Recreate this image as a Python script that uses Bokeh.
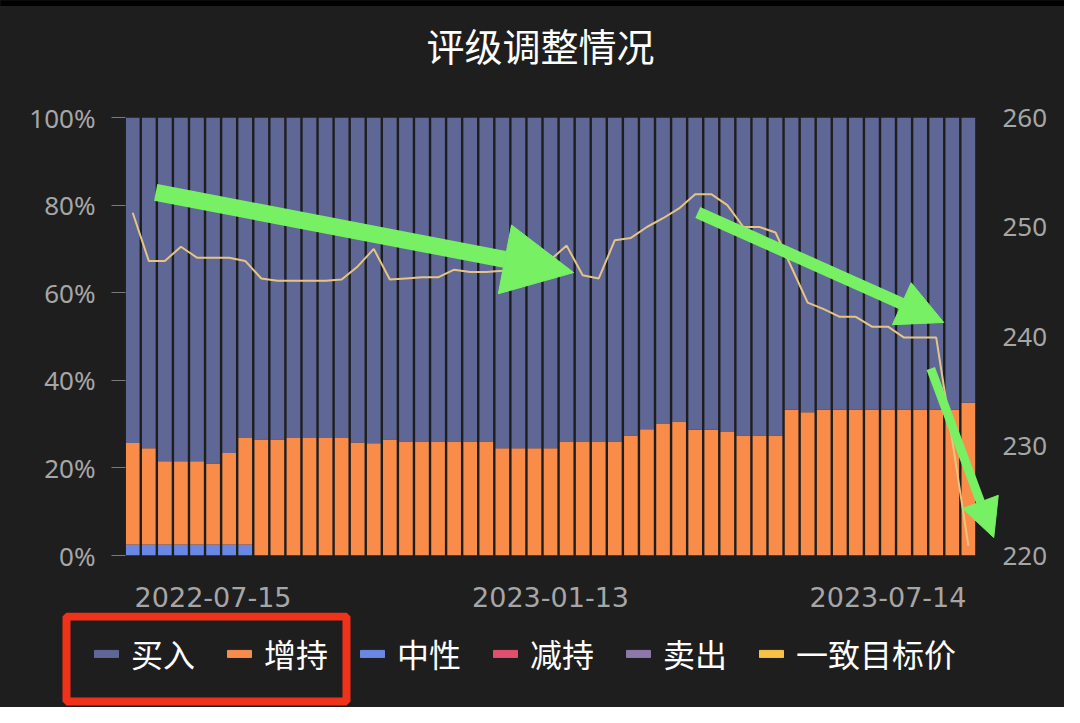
from bokeh.plotting import figure
from bokeh.models import (Range1d, LinearAxis, FixedTicker, PrintfTickFormatter,
                          Arrow, NormalHead, Legend, LegendItem, ColumnDataSource)
from bokeh.core.properties import value
from bokeh.layouts import column
from bokeh.embed import file_html
from bokeh.resources import INLINE

# ---------------- data ----------------
dates = ["2022-06-10", "2022-06-17", "2022-06-24", "2022-07-01", "2022-07-08",
         "2022-07-15", "2022-07-22", "2022-07-29", "2022-08-05", "2022-08-12",
         "2022-08-19", "2022-08-26", "2022-09-02", "2022-09-09", "2022-09-16",
         "2022-09-23", "2022-10-14", "2022-10-21", "2022-10-28", "2022-11-04",
         "2022-11-11", "2022-11-25", "2022-12-02", "2022-12-16", "2022-12-23",
         "2023-01-06", "2023-01-13", "2023-01-20", "2023-02-03", "2023-02-17",
         "2023-02-24", "2023-03-03", "2023-03-10", "2023-03-17", "2023-03-24",
         "2023-03-31", "2023-04-14", "2023-04-21", "2023-04-28", "2023-05-12",
         "2023-05-19", "2023-05-26", "2023-06-02", "2023-06-09", "2023-06-16",
         "2023-06-30", "2023-07-07", "2023-07-14", "2023-07-21", "2023-07-28",
         "2023-08-04", "2023-08-11", "2023-08-18"]

neutral = [2.5, 2.5, 2.5, 2.5, 2.5, 2.5, 2.5, 2.5, 0, 0,
           0, 0, 0, 0, 0, 0, 0, 0, 0, 0,
           0, 0, 0, 0, 0, 0, 0, 0, 0, 0,
           0, 0, 0, 0, 0, 0, 0, 0, 0, 0,
           0, 0, 0, 0, 0, 0, 0, 0, 0, 0,
           0, 0, 0]

overweight = [23.2, 22.0, 19.0, 19.0, 19.0, 18.5, 20.9, 24.3, 26.5, 26.5,
              26.8, 26.8, 26.8, 26.8, 25.8, 25.6, 26.5, 26.0, 26.0, 26.0,
              26.0, 26.0, 26.0, 24.5, 24.5, 24.5, 24.5, 26.0, 26.0, 26.0,
              26.0, 27.4, 28.8, 30.0, 30.6, 28.7, 28.7, 28.2, 27.4, 27.4,
              27.4, 33.3, 32.7, 33.3, 33.3, 33.3, 33.3, 33.3, 33.3, 33.3,
              33.3, 33.3, 34.9]

buy = [round(100 - n - o, 1) for n, o in zip(neutral, overweight)]

target_price = [251.3, 246.9, 246.9, 248.2, 247.2, 247.2, 247.2, 246.9, 245.3, 245.1,
                245.1, 245.1, 245.1, 245.2, 246.4, 248.0, 245.2, 245.3, 245.4, 245.4,
                246.1, 245.9, 245.9, 246.0, 246.2, 246.5, 247.0, 248.3, 245.6, 245.3,
                248.8, 249.0, 250.0, 250.8, 251.7, 253.0, 253.0, 252.0, 250.0, 250.0,
                249.5, 246.3, 243.1, 242.5, 241.8, 241.8, 240.9, 240.9, 239.9, 239.9,
                239.9, 230.5, 220.9]

tick_dates = ["2022-07-15", "2023-01-13", "2023-07-14"]
series_names = ["买入", "增持", "中性", "减持", "卖出", "一致目标价"]
series_colors = ["#5f6797", "#fa8c4a", "#6b87e4", "#e0506e", "#8c78aa", "#f6c347"]
line_color = "#e6c583"
title_text = "评级调整情况"

BG = "#1e1e1e"
LABEL = "#a6a6a6"
GREEN = "#78f064"
RED = "#f0321a"
W = 1064

idx = list(range(len(dates)))
src = ColumnDataSource(dict(x=idx, date=dates, neutral=neutral,
                            overweight=overweight, buy=buy, target=target_price))

# ---------------- title strip ----------------
T_H = 90
tf = figure(width=W, height=T_H, x_range=Range1d(0, W), y_range=Range1d(0, T_H),
            output_backend="svg", toolbar_location=None, min_border=0,
            background_fill_color=BG, border_fill_color=BG,
            x_axis_location=None, y_axis_location=None)
tf.frame_align = False
tf.outline_line_color = None
tf.grid.grid_line_color = None
tf.quad(left=[0], right=[W], bottom=[T_H - 5], top=[T_H], color="#000000")
tf.text(x=[540], y=[T_H - 44], text=[title_text], text_align="center",
        text_baseline="middle", text_font=value("Noto Sans CJK SC"),
        text_font_size="38px", text_color="#ffffff")

# ---------------- chart ----------------
# the frame reaches a little past the last bar so the last green arrow is not clipped
p = figure(frame_width=875, frame_height=438,
           min_border_left=125, min_border_right=64, min_border_top=117 - T_H,
           min_border_bottom=57,
           x_range=Range1d(-0.45, 54.0), y_range=Range1d(0, 100),
           output_backend="svg", toolbar_location=None,
           background_fill_color=BG, border_fill_color=BG)
p.frame_align = False
p.outline_line_color = None

bars = p.vbar_stack(["neutral", "overweight", "buy"], x="x", width=0.85, source=src,
                    color=[series_colors[2], series_colors[1], series_colors[0]],
                    line_color=None)

p.extra_y_ranges = {"price": Range1d(220, 260)}
p.line("x", "target", source=src, y_range_name="price", line_color=line_color,
       line_width=2)

# axes
p.xaxis.ticker = FixedTicker(ticks=[dates.index(d) for d in tick_dates])
p.xaxis.major_label_overrides = {dates.index(d): d for d in tick_dates}
p.xaxis.axis_line_color = None
p.xaxis.major_tick_line_color = None
p.xaxis.minor_tick_line_color = None
p.xaxis.major_label_standoff = 25
p.xaxis.major_label_text_font_size = "27px"
p.xaxis.major_label_text_color = LABEL
p.xaxis.major_label_text_font = "DejaVu Sans"

p.yaxis.ticker = FixedTicker(ticks=[0, 20, 40, 60, 80, 100])
p.yaxis.formatter = PrintfTickFormatter(format="%d%%")
p.yaxis.axis_line_color = None
p.yaxis.major_tick_line_color = "#7a7a7a"
p.yaxis.major_tick_out = 14
p.yaxis.major_tick_in = 0
p.yaxis.minor_tick_line_color = None
p.yaxis.major_label_standoff = 16
p.yaxis.major_label_text_font_size = "26px"
p.yaxis.major_label_text_color = LABEL
p.yaxis.major_label_text_font = "Noto Sans"

raxis = LinearAxis(y_range_name="price", ticker=FixedTicker(ticks=[220, 230, 240, 250, 260]))
raxis.axis_line_color = None
raxis.major_tick_line_color = None
raxis.minor_tick_line_color = None
raxis.major_label_standoff = -4
raxis.major_label_text_font_size = "26px"
raxis.major_label_text_color = LABEL
raxis.major_label_text_font = "Noto Sans"
p.add_layout(raxis, "right")

p.xgrid.grid_line_color = None
p.ygrid.grid_line_color = None

# green annotation arrows
for (xs, ys, xe, ye, w, hs) in [(1.43, 82.9, 27.44, 64.6, 17, 70),
                                (35.16, 78.3, 50.47, 53.2, 12, 46),
                                (49.66, 42.7, 53.58, 4.1, 9, 38)]:
    p.add_layout(Arrow(end=NormalHead(size=hs, fill_color=GREEN, line_color=GREEN),
                       x_start=xs, y_start=ys, x_end=xe, y_end=ye,
                       line_color=GREEN, line_width=w))

# ---------------- legend strip ----------------
LG_H = 95
lg = figure(width=W, height=LG_H, x_range=Range1d(0, W), y_range=Range1d(0, LG_H),
            output_backend="svg", toolbar_location=None,
            min_border=0, background_fill_color=BG, border_fill_color=BG,
            x_axis_location=None, y_axis_location=None)
lg.frame_align = False
lg.outline_line_color = None
lg.grid.grid_line_color = None

dummy_src = ColumnDataSource(dict(x=[-100], top=[0]))
items = []
for name, c in zip(series_names, series_colors):
    r = lg.vbar(x="x", top="top", width=0.1, source=dummy_src, fill_color=c, line_color=c)
    items.append(LegendItem(label=name, renderers=[r]))
legend = Legend(items=items, orientation="horizontal", location=(91, 31),
                glyph_width=30, glyph_height=9, label_standoff=10, spacing=29,
                padding=0, margin=0, border_line_color=None,
                background_fill_alpha=0, label_text_color="#ffffff",
                label_text_font="Noto Sans CJK SC", label_text_font_size="32px",
                label_height=40)
lg.add_layout(legend, "center")

# red highlight box around the first two legend entries
lg.quad(left=[66], right=[346], bottom=[6], top=[91], fill_alpha=0,
        line_color=RED, line_width=8)

layout = column(tf, p, lg, spacing=0, styles={"background-color": BG})
open("out.html", "w").write(file_html(layout, INLINE))
